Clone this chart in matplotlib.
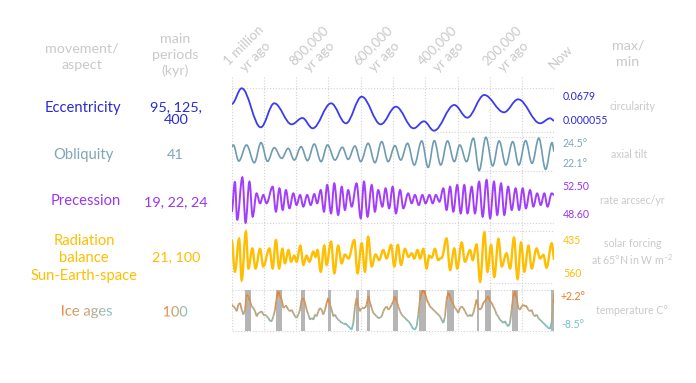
import numpy as np
import matplotlib
matplotlib.use("Agg")
import matplotlib.pyplot as plt
from matplotlib.path import Path
from matplotlib.patches import PathPatch
from matplotlib.collections import LineCollection
from matplotlib.colors import LinearSegmentedColormap
from matplotlib.textpath import TextPath
from matplotlib.font_manager import FontProperties
from matplotlib.transforms import Affine2D

W, H = 696, 383
FONT = "Lato"
plt.rcParams["font.family"] = [FONT, "DejaVu Sans"]
plt.rcParams["mathtext.fontset"] = "custom"
plt.rcParams["mathtext.rm"] = FONT
plt.rcParams["mathtext.default"] = "regular"

# ---------------- data (kyr before present) ----------------
tick_kyr = [-1000, -800, -600, -400, -200, 0]
tick_labels = ["1 million\nyr ago", "800,000\nyr ago", "600,000\nyr ago",
               "400,000\nyr ago", "200,000\nyr ago", "Now"]

# eccentricity: turning points
ecc_t = [-1000, -969, -910, -868, -814, -781, -749, -692, -646, -597, -538, -491,
         -436, -404, -373, -310, -270, -217, -156, -112, -44, -13, 0]
ecc_v = [0.0364, 0.0568, 0.0061, 0.0373, 0.0100, 0.0182, 0.0048, 0.0373, 0.0113,
         0.0459, 0.0100, 0.0329, 0.0048, 0.0139, 0.0017, 0.0351, 0.0186, 0.0481,
         0.0256, 0.0425, 0.0113, 0.0178, 0.0147]

# obliquity (degrees): turning points
obl_t = [-1000, -995, -978, -954, -930, -909, -889, -868, -845, -825,
         -806, -785, -765, -744, -723, -703, -680, -657, -639, -618,
         -600, -577, -556, -535, -515, -494, -476, -455, -434, -411,
         -391, -372, -352, -331, -310, -293, -272, -251, -233, -212,
         -191, -171, -150, -129, -110, -89, -69, -48, -27, -7, 0]
obl_v = [23.81, 23.93, 22.79, 23.93, 22.67, 24.10, 22.77, 23.74, 22.98, 23.69,
         22.86, 23.81, 22.82, 24.00, 22.75, 23.93, 22.86, 23.77, 22.91, 23.86,
         22.75, 24.05, 22.67, 24.17, 22.75, 23.88, 22.86, 24.05, 22.51, 24.22,
         22.34, 24.24, 22.51, 24.22, 22.75, 23.93, 22.75, 24.41, 22.11, 24.48,
         22.44, 24.22, 22.51, 24.17, 22.51, 24.24, 22.63, 24.41, 22.20, 24.10, 23.46]

# precession rate (arcsec/yr): turning points
prec_t = [-1000, -990, -983, -967, -957, -945, -935, -923, -912, -902,
          -892, -873, -863, -852, -842, -832, -821, -809, -799, -788,
          -778, -766, -755, -744, -735, -724, -714, -704, -692, -682,
          -670, -659, -649, -639, -628, -613, -600, -590, -579, -566,
          -556, -546, -533, -523, -512, -501, -491, -478, -468, -453,
          -442, -432, -420, -409, -399, -387, -377, -367, -356, -344,
          -334, -323, -313, -301, -290, -279, -269, -256, -246, -233,
          -222, -210, -199, -187, -177, -165, -155, -143, -132, -120,
          -109, -98, -88, -75, -65, -53, -42, -31, -21, -8, 0]
prec_v = [49.56, 52.18, 48.83, 52.56, 48.60, 52.18, 49.12, 51.16, 50.29, 51.02,
          50.29, 51.74, 49.56, 51.60, 49.71, 51.45, 49.85, 51.16, 50.14, 51.02,
          50.00, 51.02, 50.14, 51.10, 50.29, 51.45, 49.56, 51.89, 49.41, 52.03,
          49.27, 51.74, 49.71, 51.45, 50.00, 52.03, 48.98, 52.18, 49.12, 51.89,
          49.56, 51.45, 50.00, 51.60, 49.85, 51.74, 49.41, 51.45, 49.85, 51.16,
          50.29, 51.02, 50.14, 51.02, 50.29, 51.02, 50.29, 51.02, 50.43, 51.60,
          49.71, 51.74, 49.56, 51.89, 49.41, 51.89, 49.41, 51.74, 49.41, 52.18,
          49.12, 52.33, 48.98, 52.18, 49.27, 52.03, 49.27, 51.74, 49.71, 51.60,
          49.71, 51.60, 49.85, 51.45, 50.00, 51.16, 50.14, 51.16, 50.00, 51.16, 51.02]

# solar forcing at 65N (W m-2, axis runs 435 at top to 560 at bottom): turning points
rad_t = [-1000, -990, -977, -969, -956, -948, -936, -926, -912, -902,
         -883, -873, -863, -853, -843, -835, -824, -816, -806, -799,
         -787, -778, -768, -759, -747, -740, -734, -724, -713, -706,
         -692, -682, -670, -659, -649, -638, -620, -610, -597, -587,
         -577, -566, -554, -543, -530, -520, -506, -496, -485, -475,
         -463, -452, -442, -434, -424, -416, -406, -396, -388, -380,
         -370, -360, -349, -334, -323, -310, -301, -287, -277, -261,
         -253, -241, -230, -217, -207, -196, -186, -173, -163, -148,
         -137, -125, -114, -103, -93, -80, -70, -55, -44, -34, -24, -8, 0]
rad_v = [456, 535, 453, 556, 435, 527, 477, 527, 478, 522,
         477, 527, 456, 527, 478, 514, 481, 510, 495, 510,
         470, 518, 495, 510, 485, 498, 481, 535, 470, 518,
         460, 539, 470, 514, 492, 502, 456, 539, 464, 535,
         448, 522, 492, 506, 481, 502, 468, 522, 468, 518,
         478, 498, 489, 502, 481, 502, 478, 527, 495, 500,
         478, 506, 500, 452, 531, 477, 527, 462, 510, 481,
         506, 467, 560, 437, 535, 468, 548, 453, 522, 489,
         527, 450, 553, 462, 535, 470, 527, 477, 502, 493, 525, 464, 505]

# temperature anomaly (C), sampled about every 5 kyr from 1 Myr ago to now
temp_v = [-1.7, -2.2, -2.6, -3.5, -1.7, -1.2, -3.1, -4.4, -3.1, 1.0,
          0.6, -0.8, -2.2, -2.6, -3.5, -4.9, -4.0, -3.8, -3.5, -4.4,
          -4.4, -4.9, -5.3, -6.2, -6.2, -4.9, -3.1, 0.1, 1.9, 0.6,
          -0.3, -2.6, -2.2, -2.2, -3.1, -3.5, -3.1, -4.0, -4.9, -5.3,
          -4.4, -3.1, -0.3, 0.1, -1.2, -3.1, -4.4, -5.8, -5.3, -5.8,
          -4.4, -4.9, -3.5, -2.6, -3.1, -4.4, -3.1, -1.2, 0.1, -1.7,
          -3.1, -4.9, -4.4, -5.3, -5.8, -6.2, -6.7, -6.7, -7.1, -7.1,
          -7.6, -8.0, -8.5, -6.7, -2.2, 0.1, -2.2, -3.5, -2.6, -2.6,
          -2.6, -1.7, 0.7, -1.2, -2.6, -4.0, -4.4, -4.9, -5.3, -5.3,
          -4.9, -3.5, -2.6, -2.2, -3.1, -2.6,
          -1.7, -0.8, 0.6, -0.8, -2.2, -3.5, -4.4, -4.9, -5.3, -5.8,
          -6.2, -6.7, -7.6, -8.3, -8.5, -7.6, -4.4, -0.3, 1.5, 2.2,
          1.5, -0.3, -1.2, -2.2, -2.6, -3.1, -3.5, -4.0, -4.4, -4.9,
          -5.8, -6.7, -4.9, -0.3, 1.5, 0.6, -0.8, -1.7, -2.6, -3.1,
          -4.0, -2.6, -2.2, -2.6, -3.5, -4.4, -4.9, -4.4, -4.9, -4.0,
          -2.2, -0.3, -2.6, -3.1, -2.6, -1.2, -0.8, 0.1, 0.6, -0.8,
          -1.2, -2.2, -3.1, -4.4, -4.9, -5.8, -6.2, -6.7, -6.2, -7.1,
          -7.6, -6.7, -3.1, 0.6, 1.9, 0.1, -2.6, -3.1, -2.2, -1.7,
          -2.2, -2.2, -3.1, -3.5, -3.1, -4.4, -4.9, -4.4, -5.3, -5.8,
          -6.2, -6.7, -7.1, -7.6, -8.0, -8.3, -6.7, -1.2, 1.9]
temp_t = np.linspace(-1000, 2, len(temp_v))

# interglacial bands (start, end)
warm_start = [-959, -864, -786, -702, -616, -580, -499, -419, -334, -241, -215, -130, -11]
warm_end = [-941, -845, -773, -692, -605, -570, -484, -398, -311, -233, -197, -113, 0]

# ---------------- layout ----------------
X0, X1 = 231.7, 554.3
GREY = "#c9c9c9"
C_ECC, C_OBL, C_PRE, C_RAD = "#2a2ad2", "#7fa6b8", "#9b35f2", "#ffbe00"
C_WARM, C_MID, C_COLD = "#f07a22", "#c2a47c", "#6fc2c8"
ice_cmap = LinearSegmentedColormap.from_list("ice", [C_COLD, C_MID, C_WARM])

fig = plt.figure(figsize=(W / 100, H / 100), dpi=100)
fig.patch.set_facecolor("white")


def panel(ytop, ybot, ylim):
    ax = fig.add_axes([X0 / W, 1 - ybot / H, (X1 - X0) / W, (ybot - ytop) / H])
    ax.set_xlim(-1000, 0)
    ax.set_ylim(*ylim)
    ax.axis("off")
    return ax


def smooth_path(t, v, k=0.36):
    # cubic segments between turning points, flat at each turning point
    verts = [(t[0], v[0])]
    codes = [Path.MOVETO]
    for i in range(len(t) - 1):
        dt = t[i + 1] - t[i]
        verts += [(t[i] + k * dt, v[i]), (t[i + 1] - k * dt, v[i + 1]), (t[i + 1], v[i + 1])]
        codes += [Path.CURVE4] * 3
    return Path(verts, codes)


# dotted grid
bg = fig.add_axes([X0 / W, 1 - 335 / H, (X1 - X0) / W, 260 / H])
bg.set_xlim(-1000, 0)
bg.set_ylim(335, 75)
bg.axis("off")
dots = dict(color="#d3d3d3", lw=0.8, linestyle=(0, (1, 1.6)))
for t in range(-1000, 1, 100):
    bg.plot([t, t], [77, 331], **dots)
for y in [88, 223.3, 290, 331]:
    bg.plot([-1000, 0], [y, y], **dots)
for y, start in [(131.7, -373), (136.7, -225), (170.5, -235), (230.7, -215), (283, -199)]:
    bg.plot([start, 0], [y, y], **dots)

# eccentricity
ax = panel(86, 134, (-0.0026, 0.0598))
ax.add_patch(PathPatch(smooth_path(ecc_t, ecc_v), fc="none", ec="#3b3bf0", lw=1.3))

# obliquity
ax = panel(134, 174, (21.869, 24.713))
ax.add_patch(PathPatch(smooth_path(obl_t, obl_v), fc="none", ec="#6f9bb0", lw=1.2))

# precession
ax = panel(174, 226, (48.31, 52.85))
ax.add_patch(PathPatch(smooth_path(prec_t, prec_v), fc="none", ec="#a23cff", lw=1.4))

# radiation
ax = panel(228, 286, (570.8, 425.8))
ax.add_patch(PathPatch(smooth_path(rad_t, rad_v), fc="none", ec=C_RAD, lw=1.7))

# ice ages
ax = panel(290, 331, (-8.87, 2.29))
for s, e in zip(warm_start, warm_end):
    ax.axvspan(s, e, color="#b5b5b5", lw=0)
pts = np.column_stack([temp_t, temp_v])
segs = np.stack([pts[:-1], pts[1:]], axis=1)
mid = (np.array(temp_v[:-1]) + np.array(temp_v[1:])) / 2
lc = LineCollection(segs, cmap=ice_cmap, norm=plt.Normalize(-8.5, 2.2), lw=1.3)
lc.set_array(mid)
ax.add_collection(lc)
ax.set_xlim(-1000, 0)


# ---------------- text ----------------
def put(x, y, s, color, size, ha="center", va="center", **kw):
    fig.text(x / W, 1 - y / H, s, color=color, fontsize=size, ha=ha, va=va, **kw)


put(82, 57, "movement/\naspect", GREY, 10.3, linespacing=1.45)
put(175, 55, "main\nperiods\n(kyr)", GREY, 10.3, linespacing=1.4)
put(628, 53.5, "max/\nmin", GREY, 10.3, linespacing=1.45)

for t, lab in zip(tick_kyr, tick_labels):
    xp = X0 + (t + 1000) / 1000 * (X1 - X0)
    two = "\n" in lab
    put(xp + (18 if two else 7), 51.5 if two else 57, lab, GREY, 9.6,
        rotation=45, rotation_mode="anchor", linespacing=1.45)

put(83, 108, "Eccentricity", C_ECC, 10.6)
put(176, 113.5, "95, 125,\n400", C_ECC, 10.4, linespacing=1.15)
put(83, 155, "Obliquity", C_OBL, 10.6)
put(175, 155, "41", C_OBL, 10.4)
put(86, 201, "Precession", C_PRE, 10.6)
put(176, 202, "19, 22, 24", C_PRE, 10.4)
put(84, 258.5, "Radiation\nbalance\nSun-Earth-space", C_RAD, 10.6, linespacing=1.3)
put(176, 257, "21, 100", C_RAD, 10.4)

VX = 562.5
put(VX, 96.5, "0.0679", C_ECC, 7.6, ha="left")
put(VX, 120.5, "0.000055", C_ECC, 7.6, ha="left")
put(VX, 143.3, "24.5°", C_OBL, 7.6, ha="left")
put(VX, 164, "22.1°", C_OBL, 7.6, ha="left")
put(VX, 187, "52.50", C_PRE, 7.6, ha="left")
put(VX, 214.5, "48.60", C_PRE, 7.6, ha="left")
put(VX + 0.8, 240, "435", C_RAD, 7.6, ha="left")
put(VX + 0.8, 273.7, "560", C_RAD, 7.6, ha="left")
put(VX - 1.8, 296.3, "+2.2°", C_WARM, 7.6, ha="left")
put(VX - 0.8, 324.5, "-8.5°", C_COLD, 7.6, ha="left")

put(632, 106.7, "circularity", GREY, 7.6)
put(629, 154.5, "axial tilt", GREY, 7.6)
put(632, 200.3, "rate arcsec/yr", GREY, 7.6)
put(632.5, 252.3, "solar forcing\nat 65°N in W m$^{-2}$", GREY, 7.6, linespacing=1.3)
put(632, 310.3, "temperature C°", GREY, 7.6)

# gradient-coloured labels for the ice-age row
ov = fig.add_axes([0, 0, 1, 1])
ov.axis("off")


def gradient_text(x, y, s, size, cmap):
    fp = FontProperties(family=FONT)
    tp = TextPath((0, 0), s, size=size * 100 / 72, prop=fp)
    bb = tp.get_extents()
    tp = tp.transformed(Affine2D().translate(x - (bb.x0 + bb.x1) / 2,
                                             (H - y) - (bb.y0 + bb.y1) / 2))
    bb = tp.get_extents()
    patch = PathPatch(tp, transform=ov.transData, fc="none", ec="none")
    ov.add_patch(patch)
    im = ov.imshow(np.linspace(0, 1, 64)[None, :], cmap=cmap, aspect="auto",
                   extent=[bb.x0, bb.x1, bb.y0, bb.y1], interpolation="bilinear")
    im.set_clip_path(patch)


text_cmap = LinearSegmentedColormap.from_list("txt", ["#ec8a3c", C_MID, "#84c4c4"])
gradient_text(87, 311.7, "Ice ages", 10.6, text_cmap)
gradient_text(175.5, 311.3, "100", 10.4, text_cmap)
ov.set_xlim(0, W)
ov.set_ylim(0, H)

fig.savefig("out.png", dpi=100, facecolor="white")
